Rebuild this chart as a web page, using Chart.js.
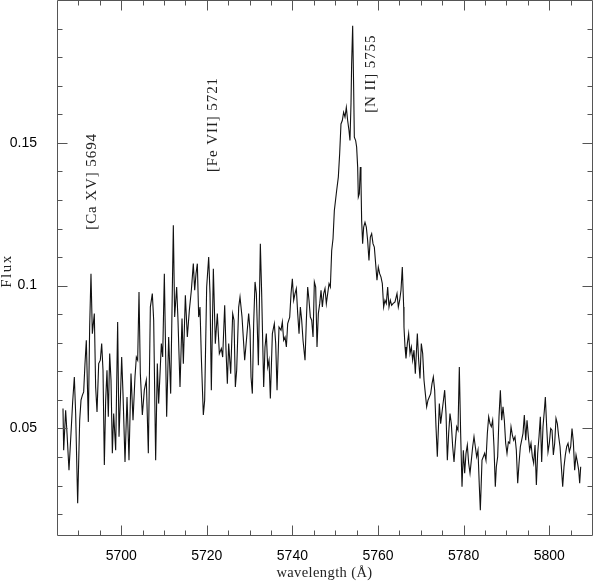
<!DOCTYPE html>
<html>
<head>
<meta charset="utf-8">
<script src="https://cdn.jsdelivr.net/npm/chart.js@4.4.1/dist/chart.umd.min.js"></script>
<style>
  html, body { margin: 0; padding: 0; background: #fff; }
  #c { display: block; }
</style>
</head>
<body>
<canvas id="c" width="593" height="582"></canvas>
<script>
// ---- data (wavelength in Å, flux) ----
const wlA = [5686.40,5686.56,5687.02,5687.34,5687.80,5688.27,5688.66,5689.05,5689.36,5689.83,5690.30,5690.61,5690.92,5691.23,5691.54,5691.85,5692.32,5692.63,5692.94,5693.26,5693.72,5694.03,5694.35,5694.74,5695.12,5695.44,5695.75,5696.06,5696.37,5696.68,5696.99,5697.31,5697.62,5697.93,5698.24,5698.71,5699.17,5699.49,5699.80,5700.11,5700.42,5700.89,5701.36,5701.82,5702.29,5702.76,5703.22,5703.54,5703.85,5704.16,5704.47,5704.94,5705.40,5705.87,5706.34,5706.81,5707.27,5707.59,5708.05];
const fluxA = [0.0570,0.0424,0.0564,0.0483,0.0354,0.0483,0.0593,0.0680,0.0552,0.0238,0.0529,0.0599,0.0616,0.0628,0.0727,0.0809,0.0523,0.0855,0.1042,0.0832,0.0902,0.0645,0.0558,0.0727,0.0739,0.0797,0.0704,0.0372,0.0599,0.0704,0.0541,0.0762,0.0669,0.0413,0.0552,0.0424,0.0873,0.0471,0.0599,0.0750,0.0622,0.0383,0.0610,0.0389,0.0692,0.0529,0.0680,0.0750,0.0739,0.0978,0.0692,0.0547,0.0634,0.0669,0.0413,0.0925,0.0972,0.0879,0.0389];

const wlB = [5708.44,5708.75,5709.07,5709.38,5709.69,5710.08,5710.62,5711.09,5711.56,5711.87,5712.18,5712.49,5712.96,5713.27,5713.74,5714.21,5714.52,5714.99,5715.45,5715.92,5716.39,5716.85,5717.17,5717.48,5717.79,5718.10,5718.41,5718.72,5719.19,5719.50,5719.97,5720.44,5720.75,5721.06,5721.53,5721.99,5722.46,5722.93,5723.40,5723.71,5724.18,5724.49,5724.80,5725.11,5725.58,5726.05,5726.36,5726.67,5726.98,5727.45,5727.76,5728.23,5728.85,5729.32,5729.78,5730.10];
const fluxB = [0.0727,0.0587,0.0692,0.0797,0.0750,0.1042,0.0541,0.0820,0.0622,0.0914,0.1211,0.0890,0.0995,0.0879,0.0645,0.0885,0.0727,0.0966,0.0820,0.0914,0.0984,0.1077,0.0984,0.1042,0.1077,0.0890,0.0925,0.0750,0.0547,0.0599,0.0995,0.1100,0.0972,0.0634,0.1059,0.0797,0.0902,0.0762,0.0780,0.0750,0.0931,0.0774,0.0657,0.0797,0.0692,0.0902,0.0879,0.0645,0.0704,0.0925,0.0960,0.0890,0.0739,0.0820,0.0902,0.0844];

const wlC = [5730.33,5730.64,5730.95,5731.27,5731.58,5732.05,5732.51,5732.82,5733.29,5733.60,5733.91,5734.23,5734.54,5734.85,5735.32,5735.78,5736.10,5736.41,5736.87,5737.34,5737.65,5737.96,5738.28,5738.59,5738.90,5739.37,5739.68,5739.99,5740.30,5740.61,5740.92,5741.24,5741.55,5741.86,5742.17,5742.48,5742.95,5743.26,5743.57,5743.88,5744.19,5744.51,5744.82,5745.13,5745.44,5745.75,5746.06,5746.38,5746.69,5747.00,5747.31,5747.62,5747.93,5748.24,5748.56,5748.87,5749.18,5749.49,5749.80];
const fluxC = [0.0680,0.0622,0.0867,0.1013,0.0972,0.0721,0.1147,0.0972,0.0645,0.0785,0.0832,0.0715,0.0739,0.0605,0.0832,0.0867,0.0797,0.0634,0.0855,0.0844,0.0873,0.0809,0.0820,0.0785,0.0867,0.0890,0.0972,0.1024,0.0949,0.0972,0.0990,0.0902,0.0832,0.0925,0.0879,0.0809,0.0739,0.0879,0.0995,0.0949,0.0890,0.0879,0.0820,0.1013,0.0995,0.0785,0.0902,0.0937,0.0984,0.0925,0.0972,0.0990,0.0937,0.0972,0.1007,0.0995,0.1123,0.1164,0.1263];

const wlD = [5750.34,5750.73,5751.04,5751.35,5751.66,5751.97,5752.29,5752.60,5752.91,5753.22,5753.45,5753.69,5753.84,5754.08,5754.31,5754.47,5754.78,5755.01,5755.25,5755.40,5755.64,5755.87,5756.02,5756.18,5756.41,5756.65,5756.96,5757.27,5757.58,5757.89,5758.21,5758.52,5758.83,5759.14,5759.45,5759.76,5760.07,5760.39,5760.70,5761.01,5761.32,5761.63,5761.94,5762.26,5762.57,5762.88,5763.19,5763.50,5763.97,5764.44,5764.75,5765.06,5765.37,5765.68,5766.00];
const fluxD = [0.1333,0.1380,0.1462,0.1566,0.1578,0.1607,0.1590,0.1624,0.1578,0.1543,0.1508,0.1636,0.1776,0.1910,0.1694,0.1520,0.1508,0.1485,0.1415,0.1310,0.1322,0.1415,0.1368,0.1228,0.1147,0.1205,0.1222,0.1205,0.1158,0.1088,0.1170,0.1182,0.1147,0.1135,0.1077,0.1019,0.1065,0.1042,0.1030,0.1007,0.0925,0.0949,0.0937,0.0995,0.0925,0.0949,0.0931,0.0937,0.0943,0.0972,0.0925,0.0949,0.0984,0.1065,0.0925];

const wlE = [5766.07,5766.31,5766.54,5766.85,5767.16,5767.48,5767.79,5768.10,5768.41,5768.72,5769.19,5769.50,5769.81,5770.12,5770.44,5770.75,5771.06,5771.37,5771.68,5771.99,5772.31,5772.62,5772.93,5773.24,5773.55,5773.86,5774.33,5774.64,5775.11,5775.58,5775.89,5776.20,5776.51,5776.82,5777.13,5777.45,5777.76,5778.07,5778.38,5778.69,5779.00,5779.31,5779.63,5779.94,5780.25,5780.56,5780.87,5781.18,5781.50,5781.81,5782.12,5782.43,5782.74,5783.05,5783.36,5783.68,5783.91,5784.30,5784.61,5784.92,5785.23,5785.55,5785.86,5786.17,5786.48,5786.79,5787.10,5787.41];
const fluxE = [0.0855,0.0785,0.0745,0.0797,0.0832,0.0762,0.0785,0.0739,0.0774,0.0692,0.0832,0.0739,0.0675,0.0797,0.0762,0.0669,0.0622,0.0576,0.0599,0.0610,0.0622,0.0657,0.0680,0.0634,0.0506,0.0401,0.0587,0.0517,0.0576,0.0634,0.0552,0.0389,0.0483,0.0552,0.0517,0.0436,0.0383,0.0448,0.0506,0.0494,0.0715,0.0483,0.0296,0.0424,0.0343,0.0413,0.0442,0.0378,0.0343,0.0389,0.0436,0.0471,0.0436,0.0401,0.0424,0.0296,0.0214,0.0389,0.0401,0.0413,0.0389,0.0483,0.0541,0.0517,0.0506,0.0529,0.0436,0.0296];

const wlF = [5787.65,5787.96,5788.27,5788.59,5788.90,5789.21,5789.52,5789.83,5790.14,5790.46,5790.77,5791.08,5791.39,5791.70,5792.01,5792.32,5792.64,5792.95,5793.26,5793.57,5793.88,5794.19,5794.51,5794.82,5795.13,5795.44,5795.75,5796.06,5796.37,5796.69,5797.00,5797.31,5797.62,5797.93,5798.24,5798.55,5798.87,5799.10,5799.41,5799.72,5800.03,5800.35,5800.66,5800.97,5801.28,5801.59,5801.90,5802.22,5802.53,5802.84,5803.15,5803.46,5803.77,5804.08,5804.40,5804.71,5805.02,5805.33,5805.64,5805.95,5806.27,5806.58,5806.89,5807.12,5807.36];
const fluxF = [0.0366,0.0401,0.0541,0.0634,0.0529,0.0576,0.0529,0.0448,0.0413,0.0453,0.0448,0.0506,0.0477,0.0459,0.0471,0.0424,0.0308,0.0378,0.0436,0.0459,0.0483,0.0547,0.0459,0.0529,0.0471,0.0424,0.0448,0.0401,0.0378,0.0442,0.0302,0.0413,0.0471,0.0541,0.0383,0.0506,0.0564,0.0610,0.0506,0.0418,0.0448,0.0500,0.0494,0.0407,0.0448,0.0535,0.0517,0.0471,0.0436,0.0366,0.0296,0.0366,0.0407,0.0436,0.0448,0.0418,0.0436,0.0500,0.0453,0.0354,0.0407,0.0383,0.0354,0.0308,0.0366];

const xTickLabels = [5700, 5720, 5740, 5760, 5780, 5800];
const yTickLabels = [0.05, 0.1, 0.15];
const xRange = [5685, 5810];
const yRange = [0.0127, 0.2];

const lineLabels = [
  { text: '[Ca XV] 5694', wl: 5693.2, flux: 0.1365 },
  { text: '[Fe VII] 5721', wl: 5721.45, flux: 0.1564 },
  { text: '[N II] 5755', wl: 5758.36, flux: 0.1742 }
];
const xTitle = 'wavelength (Å)';
const yTitle = 'Flux';

// ---- build points ----
const segs = [[wlA, fluxA], [wlB, fluxB], [wlC, fluxC], [wlD, fluxD], [wlE, fluxE], [wlF, fluxF]];
const points = [];
segs.forEach(([w, f]) => {
  const n = Math.min(w.length, f.length);
  for (let i = 0; i < n; i++) points.push({ x: w[i], y: f[i] });
});

const SERIF = '"Liberation Serif", "DejaVu Serif", serif';
const SANS = '"Liberation Sans", Arial, sans-serif';
const FRAME = '#555';

const framePlugin = {
  id: 'frameTicks',
  afterDraw(chart) {
    const { ctx, chartArea: a, scales: { x, y } } = chart;
    ctx.save();
    ctx.strokeStyle = FRAME;
    ctx.lineWidth = 1;
    // frame
    ctx.beginPath();
    ctx.rect(a.left + 0.5, a.top + 0.5, a.right - a.left, a.bottom - a.top);
    ctx.stroke();
    // x ticks (every 5 Å, major every 20 Å)
    ctx.beginPath();
    for (let v = Math.ceil(xRange[0] / 5) * 5; v <= xRange[1]; v += 5) {
      if (v <= xRange[0] || v >= xRange[1]) continue;
      const px = Math.round(x.getPixelForValue(v)) + 0.5;
      const len = (v % 20 === 0) ? 10 : 5;
      ctx.moveTo(px, a.bottom + 0.5); ctx.lineTo(px, a.bottom + 0.5 - len);
      ctx.moveTo(px, a.top + 0.5); ctx.lineTo(px, a.top + 0.5 + len);
    }
    // y ticks (every 0.01, major every 0.05)
    for (let k = 1; k <= 20; k++) {
      const v = k / 100;
      if (v <= yRange[0] || v >= yRange[1]) continue;
      const py = Math.round(y.getPixelForValue(v)) + 0.5;
      const len = (k % 5 === 0) ? 10 : 5;
      ctx.moveTo(a.left + 0.5, py); ctx.lineTo(a.left + 0.5 + len, py);
      ctx.moveTo(a.right + 0.5, py); ctx.lineTo(a.right + 0.5 - len, py);
    }
    ctx.stroke();

    // rotated line labels
    ctx.fillStyle = '#222';
    ctx.font = '15px ' + SERIF;
    ctx.textAlign = 'center';
    ctx.textBaseline = 'middle';
    try { ctx.letterSpacing = '0.9px'; } catch (e) {}
    lineLabels.forEach(l => {
      const px = x.getPixelForValue(l.wl);
      const py = y.getPixelForValue(l.flux);
      ctx.save();
      ctx.translate(px, py);
      ctx.rotate(-Math.PI / 2);
      ctx.fillText(l.text, 0, 0);
      ctx.restore();
    });
    // y title
    try { ctx.letterSpacing = '1.5px'; } catch (e) {}
    ctx.save();
    ctx.translate(7.5, 271);
    ctx.rotate(-Math.PI / 2);
    ctx.fillText(yTitle, 0, 0);
    ctx.restore();
    // x title
    ctx.font = '14.5px ' + SERIF;
    try { ctx.letterSpacing = '0.4px'; } catch (e) {}
    ctx.fillText(xTitle, (a.left + a.right) / 2, 573);
    ctx.restore();
  }
};

new Chart(document.getElementById('c'), {
  type: 'line',
  data: {
    datasets: [{
      data: points,
      borderColor: '#111',
      borderWidth: 1.1,
      pointRadius: 0,
      tension: 0,
      fill: false
    }]
  },
  options: {
    responsive: false,
    devicePixelRatio: 1,
    animation: false,
    parsing: false,
    layout: { padding: { top: 0, right: 1, bottom: 0, left: 0 } },
    plugins: { legend: { display: false }, tooltip: { enabled: false } },
    scales: {
      x: {
        type: 'linear',
        min: xRange[0], max: xRange[1],
        grid: { display: false },
        border: { display: false },
        ticks: {
          padding: 5,
          color: '#000',
          font: { family: SANS, size: 14 },
          maxRotation: 0,
          callback: v => String(v)
        },
        afterBuildTicks: s => { s.ticks = xTickLabels.map(v => ({ value: v })); },
        afterFit: s => { s.height = 47; s.paddingLeft = 0; s.paddingRight = 0; }
      },
      y: {
        type: 'linear',
        min: yRange[0], max: yRange[1],
        grid: { display: false },
        border: { display: false },
        ticks: {
          padding: 12,
          color: '#000',
          font: { family: SANS, size: 14 },
          callback: v => String(v)
        },
        afterBuildTicks: s => { s.ticks = yTickLabels.map(v => ({ value: v })); },
        afterFit: s => { s.width = 57; s.paddingTop = 0; s.paddingBottom = 0; }
      }
    }
  },
  plugins: [framePlugin]
});
</script>
</body>
</html>
